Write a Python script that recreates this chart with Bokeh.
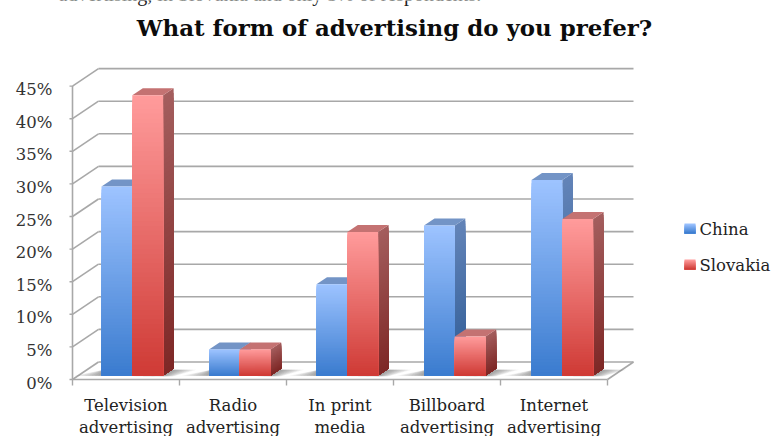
from bokeh.plotting import figure
from bokeh.models import Range1d
from bokeh.core.properties import value
from bokeh.embed import file_html
from bokeh.resources import INLINE

title = "What form of advertising do you prefer?"
clipped_line = "advertising, in Slovakia and only 5% of respondents."
categories = ["Television\nadvertising", "Radio\nadvertising", "In print\nmedia",
              "Billboard\nadvertising", "Internet\nadvertising"]
china = [29, 4, 14, 23, 30]
slovakia = [43, 4, 22, 6, 24]
series_names = ["China", "Slovakia"]
y_ticks = [0, 5, 10, 15, 20, 25, 30, 35, 40, 45]

# scale: 1 x unit = one category on the front axis, 1 y unit = 1 percent
PXX, PXY = 107.0, 6.52
REFX0, REFY0 = 72.0, 379.0      # position of the front axis origin
W, H = 771, 436

def ux(px): return (px - REFX0) / PXX
def uy(py): return (REFY0 - py) / PXY

p = figure(width=W, height=H, output_backend="svg", toolbar_location=None,
           x_range=Range1d(ux(0), ux(W)), y_range=Range1d(uy(H), uy(0)),
           min_border=0)
p.axis.visible = False
p.grid.visible = False
p.outline_line_color = None
p.background_fill_color = "white"
p.border_fill_color = "white"

WALL_DX, WALL_DY = 26 / PXX, 17.5 / PXY
N = len(categories)
GRID = "#a8a8a8"

for t in y_ticks:
    p.line([WALL_DX, N + WALL_DX], [t + WALL_DY] * 2, line_color=GRID, line_width=1.6)
    p.line([0, WALL_DX], [t, t + WALL_DY], line_color=GRID, line_width=1.6)
    p.line([-3 / PXX, 0], [t, t], line_color=GRID, line_width=1.4)
p.line([0, 0], [0, y_ticks[-1]], line_color=GRID, line_width=1.6)
p.line([0, N], [0, 0], line_color=GRID, line_width=1.6)
p.line([N, N + WALL_DX], [0, WALL_DY], line_color=GRID, line_width=1.6)
for i in range(N + 1):
    p.line([i, i], [0, -6 / PXY], line_color=GRID, line_width=1.4)

def mix(a, b, t):
    return "#%02x%02x%02x" % tuple(round(a[k] + (b[k] - a[k]) * t) for k in range(3))

FRONT = [((0x9d, 0xc3, 0xff), (0x3b, 0x7c, 0xcf)), ((0xff, 0x9b, 0x9b), (0xcf, 0x3b, 0x36))]
SIDE = [((0x63, 0x84, 0xb8), (0x2f, 0x5c, 0x96)), ((0xa4, 0x5e, 0x5e), (0x7e, 0x28, 0x26))]
TOP = ["#7394c6", "#c47272"]

BAR_U0, BAR_STEP, BAR_W = 29 / PXX, 107.5 / PXX, 30.8 / PXX
BASE = 4 / PXY
DEP_X, DEP_Y = 10.5 / PXX, 7 / PXY
SLICES = 60

def bar(x0, v, s):
    """one 3-D bar; gradient bands are nested down to the base so no seams show"""
    x1 = x0 + BAR_W
    top = BASE + v
    xs, ys, cols = [], [], []
    for k in range(SLICES):
        a = top - v * k / SLICES
        xs.append([x1, x1 + DEP_X, x1 + DEP_X, x1])
        ys.append([a, a + DEP_Y, BASE + DEP_Y, BASE])
        cols.append(mix(*SIDE[s], k / (SLICES - 1)))
    p.patches(xs, ys, fill_color=cols, line_color=None)
    p.patch([x0, x0 + DEP_X, x1 + DEP_X, x1], [top, top + DEP_Y, top + DEP_Y, top],
            fill_color=TOP[s], line_color=None)
    l, r, t, b, cols = [], [], [], [], []
    for k in range(SLICES):
        l.append(x0)
        r.append(x1)
        t.append(top - v * k / SLICES)
        b.append(BASE)
        cols.append(mix(*FRONT[s], k / (SLICES - 1)))
    p.quad(left=l, right=r, top=t, bottom=b, fill_color=cols, line_color=None)

for i in range(N):
    x0 = BAR_U0 + i * BAR_STEP
    x1 = x0 + 2 * BAR_W
    for g in range(8):
        e = (8 - g) * 1.9 / PXX
        p.patch([x0 - e * 1.8, x0 + 0.02, x1 + DEP_X + e * 1.5, x1 + e * 0.7],
                [BASE - 0.05, BASE + 0.9, BASE + 0.9, BASE - 0.1],
                fill_color="#4a4a4a", fill_alpha=0.08, line_color=None)

for i in range(N):
    x0 = BAR_U0 + i * BAR_STEP
    bar(x0, china[i], 0)
    bar(x0 + BAR_W, slovakia[i], 1)

SERIF = value("DejaVu Serif")
p.text(x=[ux(58)], y=[uy(-7)], text=[clipped_line], text_font=value("Liberation Serif"),
       text_font_size="20px", text_align="left", text_baseline="alphabetic", text_color="#222222")
p.text(x=[ux(394)], y=[uy(27)], text=[title], text_font=SERIF, text_font_style="bold",
       text_font_size="22.9px", text_align="center", text_baseline="middle", text_color="#0c0c0c")

p.text(x=[ux(52)] * len(y_ticks), y=[uy(REFY0 - t * PXY + 3.5) for t in y_ticks],
       text=["%d%%" % t for t in y_ticks], text_font=SERIF, text_font_size="16.5px",
       text_align="right", text_baseline="middle", text_color="#333333")

for i, c in enumerate(categories):
    for j, line in enumerate(c.split("\n")):
        p.text(x=[i + 0.5], y=[uy(405 + 22 * j)], text=[line], text_font=SERIF,
               text_font_size="16.5px", text_align="center", text_baseline="middle",
               text_color="#222222")

for s, name in enumerate(series_names):
    cy = [228, 264][s]
    l, r, t, b, cols = [], [], [], [], []
    for k in range(10):
        l.append(ux(684))
        r.append(ux(695))
        t.append(uy(cy - 5 + k))
        b.append(uy(cy + 5))
        cols.append(mix(*FRONT[s], k / 9))
    p.quad(left=l, right=r, top=t, bottom=b, fill_color=cols, line_color=None)
    p.text(x=[ux(699)], y=[uy(cy + 1)], text=[name], text_font=SERIF, text_font_size="16.5px",
           text_align="left", text_baseline="middle", text_color="#222222")

open("out.html", "w").write(file_html(p, INLINE))
